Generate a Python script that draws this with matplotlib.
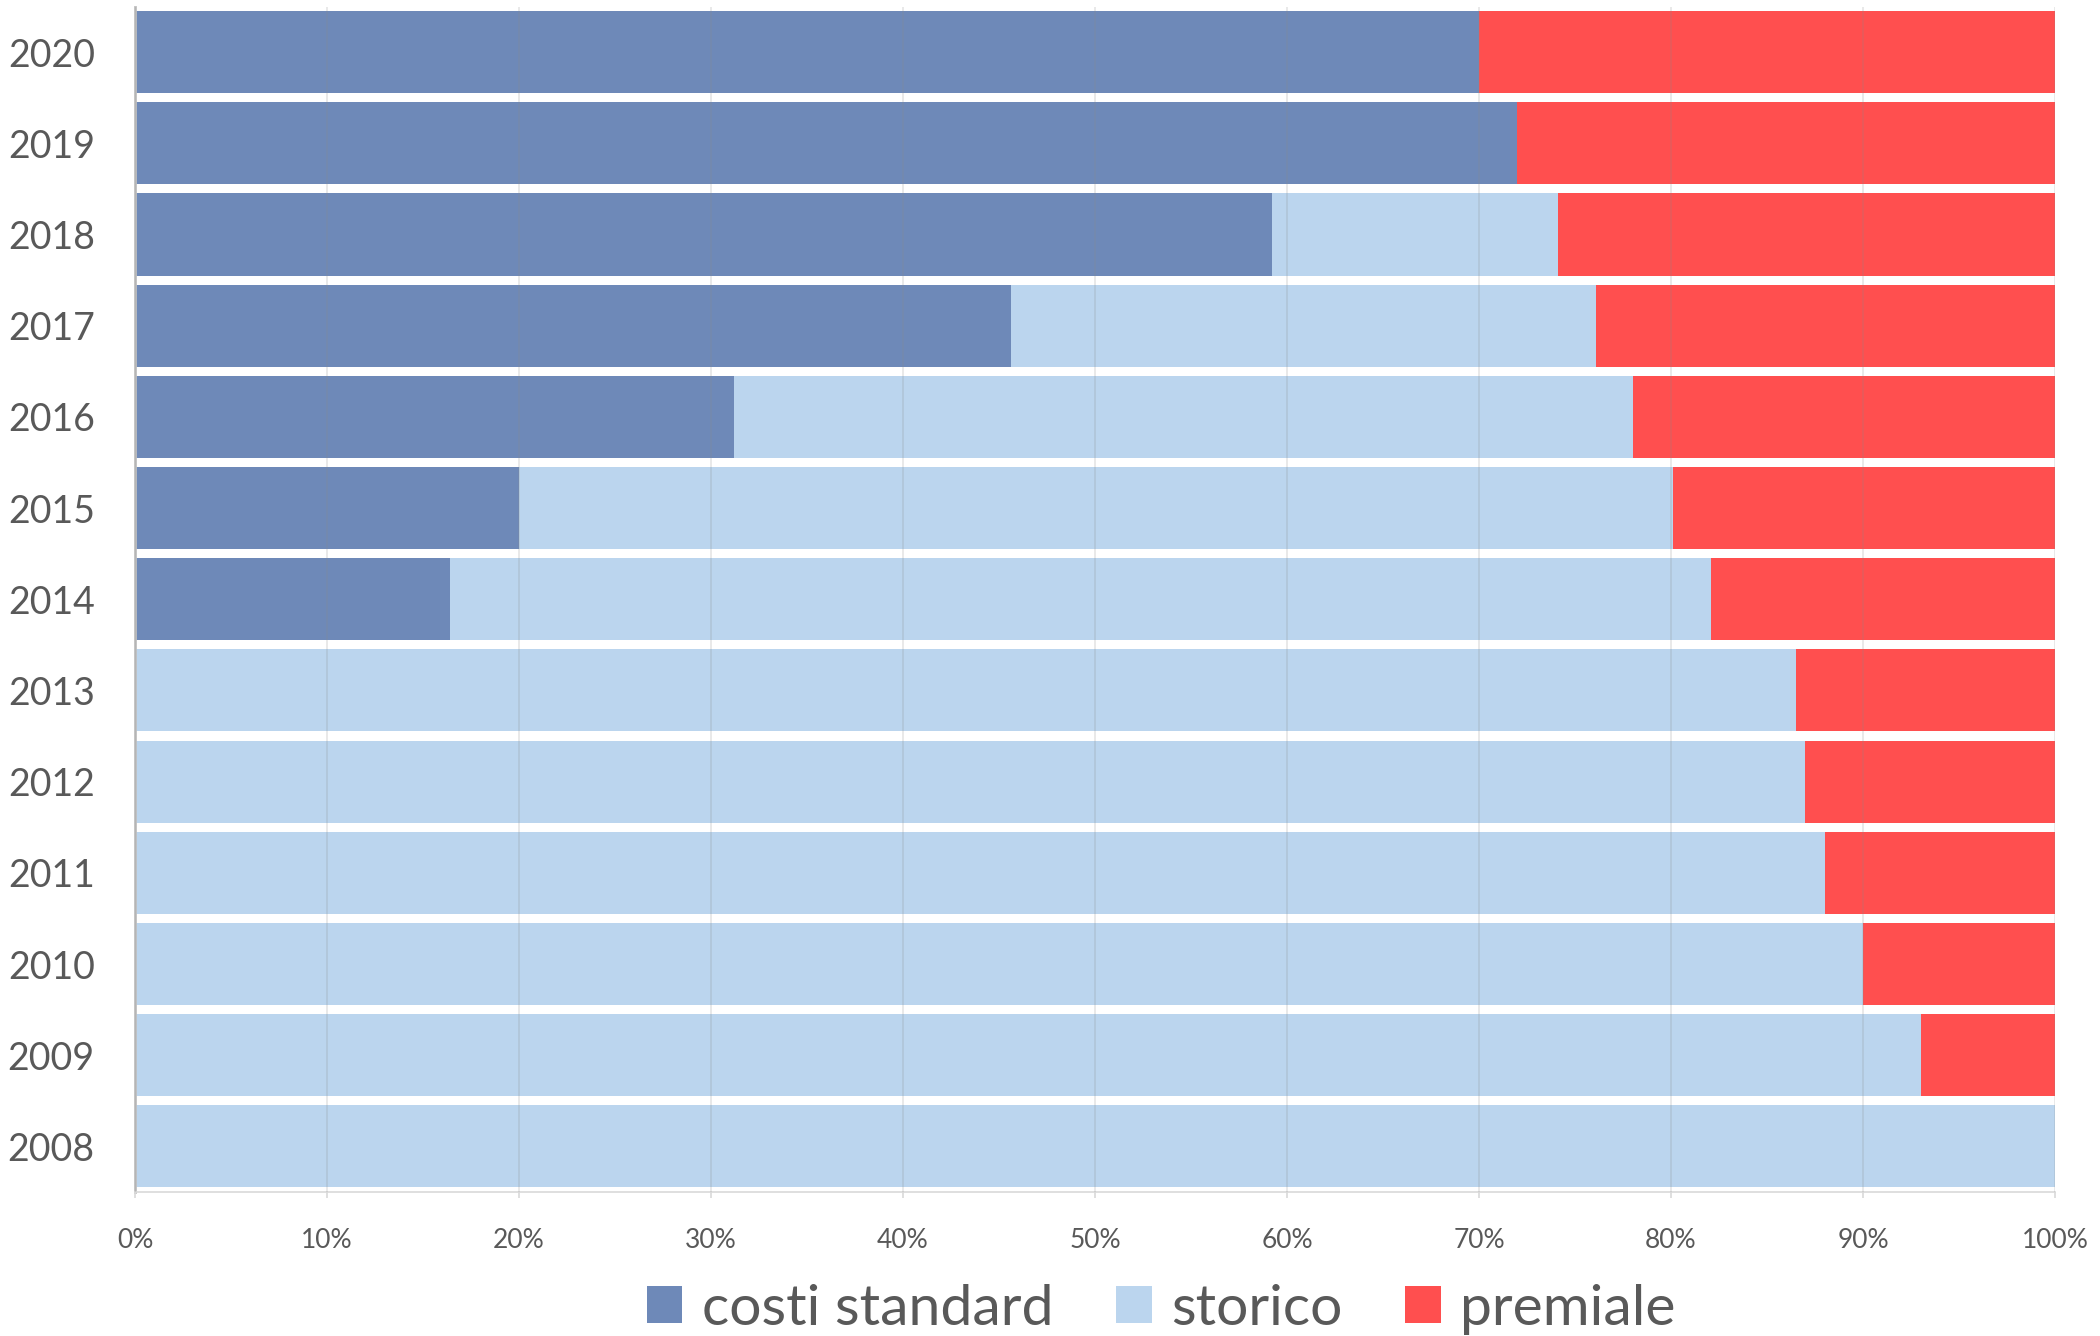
import matplotlib.pyplot as plt
from matplotlib.ticker import PercentFormatter

plt.rcParams['font.family'] = ['Lato', 'DejaVu Sans']

anni = ['2008', '2009', '2010', '2011', '2012', '2013', '2014',
        '2015', '2016', '2017', '2018', '2019', '2020']
costi_standard = [0, 0, 0, 0, 0, 0, 16.4, 20.0, 31.2, 45.6, 59.2, 72.0, 70.0]
storico = [100, 93.0, 90.0, 88.0, 87.0, 86.5, 65.7, 60.1, 46.8, 30.5, 14.9, 0, 0]
premiale = [0, 7.0, 10.0, 12.0, 13.0, 13.5, 17.9, 19.9, 22.0, 23.9, 25.9, 28.0, 30.0]

c_costi = '#6E89B8'
c_storico = '#BBD5EE'
c_premiale = '#FF4F4F'
grigio = '#595959'

fig = plt.figure(figsize=(21, 13.36), dpi=100)
ax = fig.add_axes([0.0643, 0.1078, 0.9143, 0.8873])

y = range(len(anni))
left2 = [a + b for a, b in zip(costi_standard, storico)]
ax.barh(y, costi_standard, height=0.9, color=c_costi, label='costi standard', zorder=2)
ax.barh(y, storico, left=costi_standard, height=0.9, color=c_storico, label='storico', zorder=2)
ax.barh(y, premiale, left=left2, height=0.9, color=c_premiale, label='premiale', zorder=2)

ax.set_xlim(0, 100)
ax.set_ylim(-0.5, len(anni) - 0.5)
ax.set_yticks(list(y))
ax.set_yticklabels(anni)
ax.set_xticks(range(0, 101, 10))
ax.xaxis.set_major_formatter(PercentFormatter(decimals=0))

# griglia sopra le barre, leggera
ax.grid(axis='x', color='#8A8A8A', alpha=0.22, linewidth=1.2, zorder=3)
ax.set_axisbelow(False)

for s in ['top', 'right']:
    ax.spines[s].set_visible(False)
ax.spines['left'].set_color('#BFBFBF')
ax.spines['left'].set_linewidth(2)
ax.spines['bottom'].set_color('#D9D9D9')
ax.spines['bottom'].set_linewidth(1.2)

ax.tick_params(axis='y', length=0, pad=29, labelsize=27, labelcolor=grigio)
ax.tick_params(axis='x', length=4, width=1.2, color='#D9D9D9', pad=22,
               labelsize=19, labelcolor=grigio)

leg = fig.legend(loc='center', bbox_to_anchor=(0.553, 0.020), ncol=3, frameon=False,
                 fontsize=41, handlelength=0.63, handleheight=0.63,
                 handletextpad=0.34, columnspacing=1.1, borderaxespad=0)
for t in leg.get_texts():
    t.set_color(grigio)

fig.savefig('out.png', dpi=100)
